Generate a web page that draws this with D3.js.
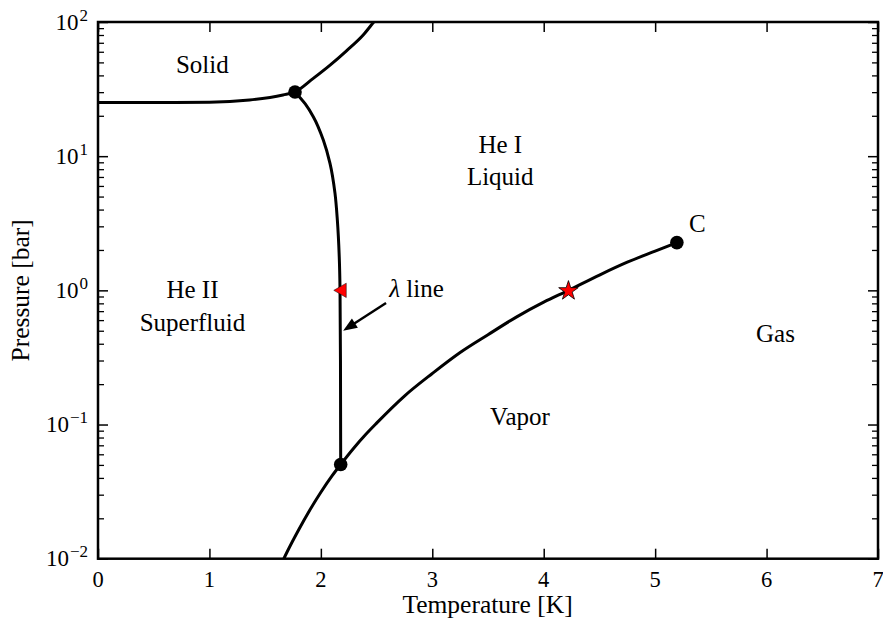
<!DOCTYPE html>
<html>
<head>
<meta charset="utf-8">
<script src="https://cdn.jsdelivr.net/npm/d3@7"></script>
<style>
  html, body { margin: 0; padding: 0; background: #fff; }
  #chart, #chart text { font-family: "Liberation Serif", "Times New Roman", "DejaVu Serif", serif; }
  #chart text { fill: #000; }
</style>
</head>
<body>
<svg id="chart" width="883" height="624" font-family="Liberation Serif, Times New Roman, serif"></svg>
<script>
// ---- Axis ticks -----------------------------------------------------------
const xTicks = [0, 1, 2, 3, 4, 5, 6, 7];
const yTicks = [0.01, 0.1, 1, 10, 100];
const yTickExponents = ["\u22122", "\u22121", "0", "1", "2"];

// ---- Phase boundaries of helium-4 (T in K, P in bar) ---------------------
// Melting curve (solid / liquid)
const meltT = [0, 0.5, 1.0, 1.36, 1.66, 1.768, 1.932, 2.08, 2.23, 2.38, 2.475, 2.56];
const meltP = [25.1, 25.1, 25.2, 26.2, 28.6, 30.1, 38.0, 47.5, 61.0, 80, 100, 122];

// Lambda line (He I / He II)
const lambdaT = [1.768, 1.86, 1.932, 2.022, 2.082, 2.127, 2.148, 2.165, 2.172, 2.176, 2.178];
const lambdaP = [30.1, 24.5, 19.7, 13.2, 8.85, 5.28, 3.34, 1.78, 1.0, 0.3, 0.0504];

// Saturated vapour pressure curve, ending at the critical point
const vaporT = [1.5, 1.6, 1.7, 1.8, 1.9, 2.0, 2.1, 2.178, 2.3, 2.4, 2.5, 2.75, 3.0, 3.25, 3.5, 3.75, 4.0, 4.222, 4.5, 4.75, 5.0, 5.195];
const vaporP = [0.00472, 0.00752, 0.01136, 0.01638, 0.02299, 0.03130, 0.04141, 0.0504, 0.0675, 0.0839, 0.1024, 0.163, 0.240, 0.344, 0.467, 0.629, 0.816, 1.0, 1.30, 1.62, 1.96, 2.27];

// Upper triple point, lower lambda point, critical point
const pointT = [1.768, 2.178, 5.195];
const pointP = [30.1, 0.0504, 2.27];

// Normal boiling point (star) and lambda point at 1 bar (triangle)
const boilT = [4.222];
const boilP = [1.0];
const lambdaMarkT = [2.172];
const lambdaMarkP = [1.0];

// Region labels: text and anchor (T, P) at the text baseline centre
const regionText = ["Solid", "He I", "Liquid", "He II", "Superfluid", "Vapor", "Gas"];
const regionT = [0.936, 3.61, 3.61, 0.848, 0.848, 3.787, 6.08];
const regionP = [41.9, 10.6, 6.10, 0.873, 0.498, 0.0991, 0.410];

// Annotation of the lambda line and the critical point
const lambdaLabelT = 2.614, lambdaLabelP = 0.897;
const arrowFromT = 2.585, arrowFromP = 0.805;
const arrowToT = 2.2, arrowToP = 0.5;
const critLabelT = 5.303, critLabelP = 2.70;

// ---- Scales ---------------------------------------------------------------
const svg = d3.select("#chart");
const x = d3.scaleLinear().domain([0, 7]).range([98, 878]);
const y = d3.scaleLog().domain([0.01, 100]).range([558.7, 22]);
const [xL, xR] = x.range();
const [yB, yT] = y.range();
const FONT = "Liberation Serif, Times New Roman, serif";

const defs = svg.append("defs");
defs.append("clipPath").attr("id", "plot-clip")
  .append("rect")
  .attr("x", xL).attr("y", yT)
  .attr("width", xR - xL).attr("height", yB - yT);

// ---- Ticks (pointing inward, mirrored on all four sides) ------------------
const minorY = [];
for (let e = -2; e < 2; e++) for (let m = 2; m < 10; m++) minorY.push(+(m * Math.pow(10, e)).toPrecision(3));

function styleTicks(g, w) {
  g.select(".domain").remove();
  g.selectAll(".tick text").remove();
  g.selectAll(".tick line").attr("stroke", "#000").attr("stroke-width", w);
}
const axes = svg.append("g");
axes.append("g").attr("transform", `translate(0,${yB})`)
  .call(d3.axisBottom(x).tickValues(xTicks).tickSizeInner(-10).tickSizeOuter(0))
  .call(g => styleTicks(g, 1.5));
axes.append("g").attr("transform", `translate(0,${yT})`)
  .call(d3.axisTop(x).tickValues(xTicks).tickSizeInner(-10).tickSizeOuter(0))
  .call(g => styleTicks(g, 1.5));
axes.append("g").attr("transform", `translate(${xL},0)`)
  .call(d3.axisLeft(y).tickValues(yTicks).tickSizeInner(-10).tickSizeOuter(0))
  .call(g => styleTicks(g, 1.5));
axes.append("g").attr("transform", `translate(${xR},0)`)
  .call(d3.axisRight(y).tickValues(yTicks).tickSizeInner(-10).tickSizeOuter(0))
  .call(g => styleTicks(g, 1.5));
axes.append("g").attr("transform", `translate(${xL},0)`)
  .call(d3.axisLeft(y).tickValues(minorY).tickSizeInner(-6).tickSizeOuter(0))
  .call(g => styleTicks(g, 1.3));
axes.append("g").attr("transform", `translate(${xR},0)`)
  .call(d3.axisRight(y).tickValues(minorY).tickSizeInner(-6).tickSizeOuter(0))
  .call(g => styleTicks(g, 1.3));

// ---- Tick labels ----------------------------------------------------------
svg.append("g").attr("font-family", FONT).selectAll("text").data(xTicks).join("text")
  .attr("x", d => x(d)).attr("y", yB + 28.5)
  .attr("text-anchor", "middle").attr("font-size", 22.5)
  .text(d => d);

const yLab = svg.append("g").attr("font-family", FONT).selectAll("text").data(yTicks).join("text")
  .attr("x", xL - 10).attr("y", d => y(d) + 7.6)
  .attr("text-anchor", "end").attr("font-size", 23);
yLab.append("tspan").text("10");
yLab.append("tspan").attr("dx", 1).attr("dy", -9).attr("font-size", 17)
  .text((d, i) => yTickExponents[i]);

// ---- Phase boundary curves ------------------------------------------------
const plot = svg.append("g").attr("clip-path", "url(#plot-clip)");
const lineX = d3.line()
  .x(d => x(d[0])).y(d => y(d[1]))
  .curve(d3.curveMonotoneX);
const lineY = d3.line()
  .x(d => x(d[0])).y(d => y(d[1]))
  .curve(d3.curveMonotoneY);

[[meltT, meltP, lineX], [lambdaT, lambdaP, lineY], [vaporT, vaporP, lineX]].forEach(([T, P, gen]) => {
  plot.append("path")
    .datum(d3.zip(T, P))
    .attr("d", gen)
    .attr("fill", "none")
    .attr("stroke", "#000")
    .attr("stroke-width", 3)
    .attr("stroke-linejoin", "round");
});

// ---- Point markers --------------------------------------------------------
svg.append("g").selectAll("circle").data(d3.zip(pointT, pointP)).join("circle")
  .attr("cx", d => x(d[0])).attr("cy", d => y(d[1])).attr("r", 6.8)
  .attr("fill", "#000");

svg.append("g").selectAll("path").data(d3.zip(boilT, boilP)).join("path")
  .attr("d", d3.symbol(d3.symbolStar, 118))
  .attr("transform", d => `translate(${x(d[0])},${y(d[1]) + 0.5})`)
  .attr("fill", "#ff0000").attr("stroke", "#000").attr("stroke-width", 0.8);

const triSize = 90;
const triOff = Math.sqrt(triSize / (Math.sqrt(3) * 3)) / 2;   // shift centroid so the box is centred
svg.append("g").selectAll("path").data(d3.zip(lambdaMarkT, lambdaMarkP)).join("path")
  .attr("d", d3.symbol(d3.symbolTriangle, triSize))
  .attr("transform", d => `translate(${x(d[0]) + triOff},${y(d[1])}) rotate(-90)`)
  .attr("fill", "#ff0000").attr("stroke", "#000").attr("stroke-width", 0.5);

// ---- Region labels --------------------------------------------------------
svg.append("g").attr("font-family", FONT).selectAll("text").data(d3.range(regionText.length)).join("text")
  .attr("x", i => x(regionT[i])).attr("y", i => y(regionP[i]))
  .attr("text-anchor", "middle").attr("font-size", 25)
  .text(i => regionText[i]);

// lambda line annotation with arrow
const lam = svg.append("text")
  .attr("font-family", FONT)
  .attr("x", x(lambdaLabelT)).attr("y", y(lambdaLabelP))
  .attr("font-size", 25);
lam.append("tspan").attr("font-style", "italic").text("\u03bb");
lam.append("tspan").text(" line");

const p0 = [x(arrowFromT), y(arrowFromP)];
const p1 = [x(arrowToT), y(arrowToP)];
const len = Math.hypot(p1[0] - p0[0], p1[1] - p0[1]);
const u = [(p1[0] - p0[0]) / len, (p1[1] - p0[1]) / len];
const nrm = [-u[1], u[0]];
const headLen = 14, headHalf = 5.5;
const base = [p1[0] - u[0] * headLen, p1[1] - u[1] * headLen];
svg.append("line")
  .attr("x1", p0[0]).attr("y1", p0[1])
  .attr("x2", p1[0] - u[0] * (headLen - 3)).attr("y2", p1[1] - u[1] * (headLen - 3))
  .attr("stroke", "#000").attr("stroke-width", 2.5);
svg.append("path")
  .attr("d", d3.line()([
    p1,
    [base[0] + nrm[0] * headHalf, base[1] + nrm[1] * headHalf],
    [base[0] - nrm[0] * headHalf, base[1] - nrm[1] * headHalf]
  ]) + "Z")
  .attr("fill", "#000");

// critical point label
svg.append("text")
  .attr("font-family", FONT)
  .attr("x", x(critLabelT)).attr("y", y(critLabelP))
  .attr("font-size", 25).text("C");

// ---- Frame ----------------------------------------------------------------
svg.append("rect")
  .attr("x", xL).attr("y", yT)
  .attr("width", xR - xL).attr("height", yB - yT)
  .attr("fill", "none").attr("stroke", "#000").attr("stroke-width", 2.5);

// ---- Axis titles ----------------------------------------------------------
svg.append("text")
  .attr("font-family", FONT)
  .attr("x", (xL + xR) / 2 - 0.5).attr("y", 613)
  .attr("text-anchor", "middle").attr("font-size", 25.5)
  .text("Temperature [K]");
svg.append("text")
  .attr("font-family", FONT)
  .attr("transform", `translate(29,${(yT + yB) / 2}) rotate(-90)`)
  .attr("text-anchor", "middle").attr("font-size", 25.5)
  .text("Pressure [bar]");
</script>
</body>
</html>
